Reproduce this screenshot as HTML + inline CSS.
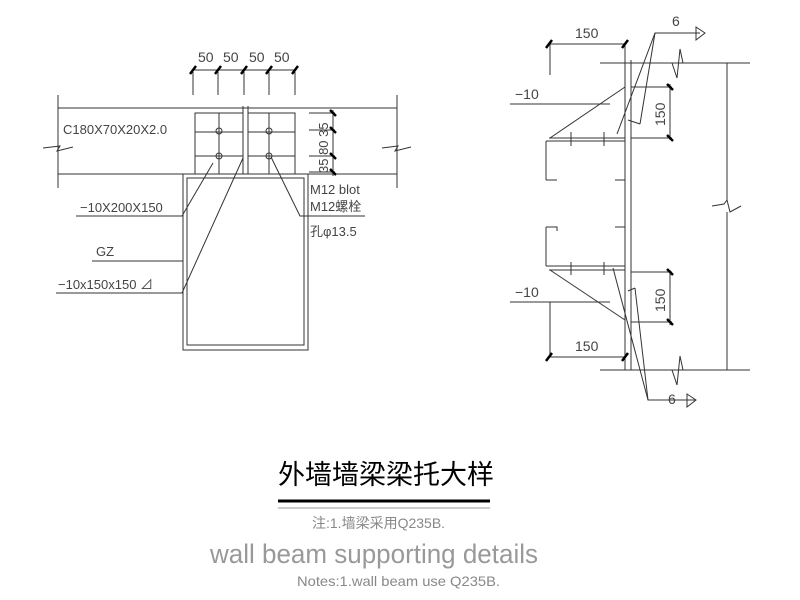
<!DOCTYPE html>
<html><head><meta charset="utf-8"><style>
html,body{margin:0;padding:0;background:#fff}
svg{display:block}
text{font-family:"Liberation Sans","Noto Sans CJK SC",sans-serif;}
</style></head><body>
<svg width="800" height="600" viewBox="0 0 800 600" xmlns="http://www.w3.org/2000/svg">
<g stroke="#333" stroke-width="1" fill="none">
<!-- LEFT: top dimension -->
<line x1="193" y1="70" x2="295" y2="70"/>
<line x1="193" y1="72" x2="193" y2="95"/><line x1="218" y1="72" x2="218" y2="95"/>
<line x1="244" y1="72" x2="244" y2="95"/><line x1="269" y1="72" x2="269" y2="95"/>
<line x1="295" y1="72" x2="295" y2="95"/>
<!-- beam -->
<line x1="58" y1="108" x2="397" y2="108"/>
<line x1="58" y1="174" x2="397" y2="174"/>
<line x1="58" y1="95" x2="58" y2="188"/>
<line x1="397" y1="95" x2="397" y2="188"/>
<polyline points="43,148 60,146 57,151 73,147"/>
<polyline points="382,148 398,146 395,151 411,147"/>
<!-- plates -->
<rect x="195" y="113" width="48" height="61"/>
<rect x="248" y="113" width="47" height="61"/>
<line x1="243" y1="106" x2="243" y2="174"/><line x1="248" y1="106" x2="248" y2="174"/>
<line x1="195" y1="132" x2="243" y2="132"/><line x1="195" y1="156" x2="243" y2="156"/>
<line x1="248" y1="132" x2="295" y2="132"/><line x1="248" y1="156" x2="295" y2="156"/>
<line x1="219" y1="113" x2="219" y2="174"/><line x1="269" y1="113" x2="269" y2="174"/>
<circle cx="219" cy="131" r="3"/><circle cx="219" cy="156" r="3"/>
<circle cx="269" cy="131" r="3"/><circle cx="269" cy="156" r="3"/>
<!-- column -->
<rect x="183" y="174" width="125" height="176"/>
<rect x="187" y="178" width="117" height="167"/>
<!-- right vertical dim -->
<line x1="309" y1="113" x2="335" y2="113"/>
<line x1="309" y1="130" x2="335" y2="130"/>
<line x1="309" y1="156" x2="335" y2="156"/>
<line x1="309" y1="172" x2="335" y2="172"/>
<line x1="333" y1="110" x2="333" y2="176"/>
<!-- leaders -->
<polyline points="76,216 182,216 213,163"/>
<polyline points="365,216 300,216 271,157"/>
<line x1="92" y1="261" x2="183" y2="261"/>
<polyline points="56,293 182,293 243,158"/>
<!-- RIGHT -->
<line x1="549" y1="44" x2="626" y2="44"/>
<line x1="550" y1="44" x2="550" y2="75"/>
<line x1="625" y1="44" x2="625" y2="370"/>
<line x1="631" y1="60" x2="631" y2="370"/>
<line x1="600" y1="63" x2="750" y2="63"/>
<line x1="600" y1="370" x2="750" y2="370"/>
<polyline points="672,63 677,78 680,49 683,63"/>
<polyline points="672,370 677,385 680,356 683,370"/>
<line x1="727" y1="63" x2="727" y2="200"/><line x1="727" y1="212" x2="727" y2="370"/>
<polyline points="712,206 724,204 727,200 730,212 741,206"/>
<!-- channels -->
<line x1="549" y1="138" x2="625" y2="138"/>
<line x1="546" y1="141" x2="625" y2="141"/>
<line x1="546" y1="141" x2="546" y2="180"/>
<polyline points="546,180 557,180"/><polyline points="615,180 625,180"/>
<line x1="571" y1="132" x2="571" y2="146"/><line x1="604" y1="132" x2="604" y2="146"/>
<line x1="546" y1="227" x2="546" y2="266"/>
<polyline points="546,227 557,227 557,231"/><polyline points="615,227 625,227"/>
<line x1="546" y1="266" x2="625" y2="266"/>
<line x1="549" y1="270" x2="625" y2="270"/>
<line x1="571" y1="262" x2="571" y2="275"/><line x1="604" y1="262" x2="604" y2="275"/>
<!-- brackets -->
<line x1="550" y1="138" x2="625" y2="87"/>
<line x1="550" y1="270" x2="625" y2="320"/>
<line x1="510" y1="104" x2="610" y2="104"/>
<line x1="510" y1="302" x2="610" y2="302"/>
<line x1="550" y1="302" x2="550" y2="357"/>
<line x1="549" y1="357" x2="626" y2="357"/>
<!-- right 150 dims -->
<line x1="631" y1="87" x2="672" y2="87"/><line x1="631" y1="138" x2="672" y2="138"/>
<line x1="670" y1="84" x2="670" y2="140"/>
<line x1="631" y1="272" x2="672" y2="272"/><line x1="631" y1="322" x2="672" y2="322"/>
<line x1="670" y1="270" x2="670" y2="325"/>
<!-- weld leaders -->
<polyline points="617,134 655,33 700,33"/>
<polyline points="640,124 655,33"/>
<polyline points="628,120 640,124"/>
<polygon points="696,27 705,33 696,40"/>
<polyline points="613,268 648,400 695,400"/>
<polyline points="635,288 648,400"/>
<polyline points="628,291 635,288"/>
<polygon points="687,394 696,400 687,407"/>
</g>
<!-- ticks -->
<g stroke="#000" stroke-width="2.5">
<line x1="190" y1="74" x2="196" y2="66"/><line x1="215" y1="74" x2="221" y2="66"/>
<line x1="241" y1="74" x2="247" y2="66"/><line x1="266" y1="74" x2="272" y2="66"/>
<line x1="292" y1="74" x2="298" y2="66"/>
<line x1="330" y1="110" x2="336" y2="116"/><line x1="330" y1="127" x2="336" y2="133"/>
<line x1="330" y1="153" x2="336" y2="159"/><line x1="330" y1="169" x2="336" y2="175"/>
<line x1="546" y1="48" x2="552" y2="40"/><line x1="622" y1="48" x2="628" y2="40"/>
<line x1="546" y1="361" x2="552" y2="353"/><line x1="622" y1="361" x2="628" y2="353"/>
<line x1="667" y1="84" x2="673" y2="90"/><line x1="667" y1="135" x2="673" y2="141"/>
<line x1="667" y1="269" x2="673" y2="275"/><line x1="667" y1="319" x2="673" y2="325"/>
</g>
<g fill="#444" font-size="14">
<text x="198" y="62">50</text><text x="223" y="62">50</text><text x="249" y="62">50</text><text x="274" y="62">50</text>
<text x="63" y="134" font-size="13">C180X70X20X2.0</text>
<text x="80" y="212" font-size="13">−10X200X150</text>
<text x="310" y="194" font-size="13">M12 blot</text>
<text x="310" y="211" font-size="13">M12螺栓</text>
<text x="310" y="236" font-size="13">孔φ13.5</text>
<text x="96" y="256" font-size="13">GZ</text>
<text x="58" y="289" font-size="13">−10x150x150 ⊿</text>
<text transform="translate(328,173) rotate(-90)" font-size="13">35 80 35</text>
<text x="575" y="38">150</text>
<text x="575" y="351">150</text>
<text x="515" y="99">−10</text>
<text x="515" y="297">−10</text>
<text x="672" y="26">6</text>
<text x="668" y="404">6</text>
<text transform="translate(665,126) rotate(-90)">150</text>
<text transform="translate(665,312) rotate(-90)">150</text>
</g>
<text x="278" y="484" font-size="27" fill="#000" font-family="'Noto Sans CJK SC',sans-serif">外墙墙梁梁托大样</text>
<line x1="278" y1="501" x2="490" y2="501" stroke="#000" stroke-width="3"/>
<line x1="278" y1="508" x2="490" y2="508" stroke="#999" stroke-width="1"/>
<text x="312" y="528" font-size="14" fill="#888">注:1.墙梁采用Q235B.</text>
<text x="210" y="563" font-size="27" fill="#999" textLength="328" lengthAdjust="spacingAndGlyphs">wall beam supporting details</text>
<text x="297" y="586" font-size="14" fill="#888" textLength="203" lengthAdjust="spacingAndGlyphs">Notes:1.wall beam use Q235B.</text>
</svg>
</body></html>
